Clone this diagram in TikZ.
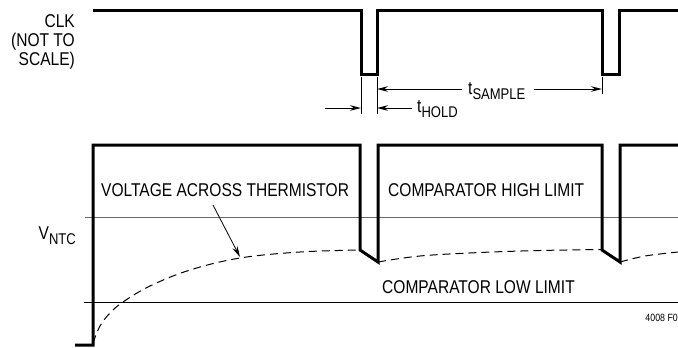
\documentclass[tikz,border=0pt]{standalone}
\usepackage{fontspec}
\setmainfont{Liberation Sans}[FakeStretch=0.84]
\usetikzlibrary{arrows.meta}
\newcommand{\lbl}{\fontsize{18.5bp}{20bp}\selectfont}
\newcommand{\subtx}[1]{\raisebox{-0.25em}{\fontsize{15.5bp}{15bp}\selectfont #1}}
\begin{document}
\begin{tikzpicture}[x=1bp,y=-1bp,
  sig/.style={line width=3bp,line join=miter},
  thinline/.style={line width=1bp},
  dashline/.style={line width=1bp,dash pattern=on 8bp off 5bp},
  arr/.style={line width=1bp,-{Stealth[length=11bp,width=5.5bp]}},
  tickline/.style={line width=0.8bp},
  txt/.style={inner sep=0pt,font=\lbl}]
\useasboundingbox (0,0) rectangle (678,347);
% CLK waveform
\draw[sig] (93,10) -- (361,10) -- (361,74) -- (377,74) -- (377,10) -- (602,10) -- (602,74) -- (619,74) -- (619,10) -- (678,10);
\node[txt,align=right,anchor=north east] (clk) at (75,14) {CLK\\[-1bp](NOT TO\\[-1bp]SCALE)};
% ticks
\coordinate (t1a) at (361,77); \coordinate (t1b) at (361,114);
\coordinate (t2a) at (377,77); \coordinate (t2b) at (377,114);
\coordinate (t3a) at (602,77); \coordinate (t3b) at (602,94);
\draw[tickline] (t1a) -- (t1b);
\draw[tickline] (t2a) -- (t2b);
\draw[tickline] (t3a) -- (t3b);
% t_SAMPLE
\node[txt,anchor=west] (ts) at (468,91) {t\subtx{SAMPLE}};
\coordinate (tsl) at (377,89); \coordinate (tsr) at (602,89);
\draw[arr] ([xshift=-6bp]ts.west |- tsl) -- (tsl);
\draw[arr] ([xshift=8bp]ts.east |- tsr) -- (tsr);
% t_HOLD
\node[txt,anchor=west] (th) at (417,109) {t\subtx{HOLD}};
\coordinate (thl) at (377,108); \coordinate (thr) at (361,108);
\coordinate (thstart) at (325,108);
\draw[arr] ([xshift=-5bp]th.west |- thl) -- (thl);
\draw[arr] (thstart) -- (thr);
% limits
\draw[thinline,draw=black!60] (85,217) -- (678,217);
\draw[thinline] (84,302) -- (678,302);
% V_NTC signal
\draw[sig] (75,345) -- (93,345) -- (93,145) -- (360,145) -- (360,250) -- (378,262) -- (378,145) -- (602,145) -- (602,250) -- (620,262) -- (620,145) -- (678,145);
% dashed thermistor voltage
\draw[dashline] plot[smooth,tension=0.6] coordinates {(93,343) (100,326) (110,313) (123,302) (150,286) (190,270) (240,258) (300,252) (360,250)};
\draw[dashline] plot[smooth,tension=0.6] coordinates {(378,262) (420,256) (480,252.5) (540,250.5) (602,249.5)};
\draw[dashline] plot[smooth,tension=0.6] coordinates {(620,262) (645,256) (678,252)};
% labels
\node[txt,anchor=east] (vntc) at (76,236) {V\subtx{NTC}};
\node[txt,anchor=west] (vat) at (101,190) {VOLTAGE ACROSS THERMISTOR};
\coordinate (vattip) at (240,257);
\draw[line width=0.8bp,-{Stealth[length=11bp,width=5.5bp]}] (213,205) -- (vattip);
\node[txt,anchor=west] (chl) at (388,190) {COMPARATOR HIGH LIMIT};
\node[txt,anchor=west] (cll) at (382,287) {COMPARATOR LOW LIMIT};
\node[inner sep=0pt,anchor=east,font=\fontsize{10.5bp}{11bp}\selectfont] (fig) at (678,318) {4008 F0};
\end{tikzpicture}
\end{document}
